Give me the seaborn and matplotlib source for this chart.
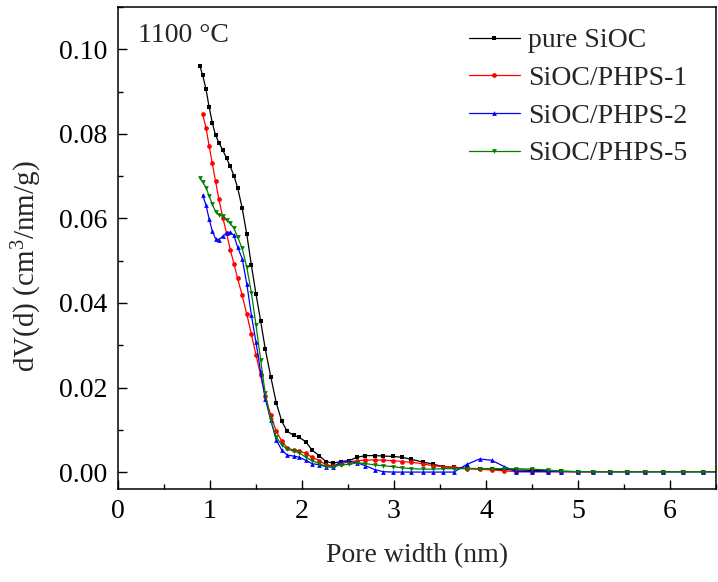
import numpy as np
import pandas as pd
import matplotlib
matplotlib.use("Agg")
import matplotlib.pyplot as plt
from matplotlib.ticker import MultipleLocator
import seaborn as sns

nan = np.nan

pore_width = [0.89, 0.92, 0.957, 0.99, 1.025, 1.06, 1.097, 1.14, 1.18, 1.22,
              1.26, 1.30, 1.35, 1.40, 1.45, 1.50, 1.55, 1.60, 1.66, 1.72,
              1.78, 1.84, 1.91, 1.97, 2.04, 2.11, 2.19, 2.26, 2.34, 2.42,
              2.51, 2.60, 2.69, 2.79, 2.88, 2.99, 3.09, 3.19, 3.31, 3.42,
              3.53, 3.65, 3.79, 3.93, 4.06, 4.20, 4.33, 4.50, 4.67, 4.82,
              5.00, 5.16, 5.35, 5.53, 5.73, 5.92, 6.14, 6.36, 6.58]

pure_sioc = [0.0960, 0.0939, 0.0905, 0.0864, 0.0826, 0.0797, 0.0779, 0.0761, 0.0742, 0.0723,
             0.0701, 0.0673, 0.0624, 0.0562, 0.0489, 0.0421, 0.0358, 0.0292, 0.0226, 0.0164,
             0.0120, 0.0096, 0.0087, 0.0082, 0.0072, 0.0052, 0.0038, 0.0025, 0.0021, 0.0025,
             0.0027, 0.0035, 0.0039, 0.0039, 0.0038, 0.0037, 0.0035, 0.0030, 0.0024, 0.0019,
             0.0013, 0.0011, 0.0009, 0.0008, 0.0007, 0.0006, 0.0005, 0.0004, 0.0003, 0.0002,
             0.0001, 0.0001, 0.0001, 0.0001, 0.0001, 0.0001, 0.0001, 0.0001, 0.0001]

phps_1 = [nan, 0.0846, 0.0814, 0.0772, 0.0730, 0.0688, 0.0645, 0.0601, 0.0565, 0.0526,
          0.0493, 0.0458, 0.0418, 0.0373, 0.0326, 0.0277, 0.0229, 0.0180, 0.0135, 0.0097,
          0.0073, 0.0057, 0.0052, 0.0050, 0.0044, 0.0035, 0.0027, 0.0017, 0.0015, 0.0020,
          0.0024, 0.0027, 0.0028, 0.0029, 0.0028, 0.0027, 0.0025, 0.0023, 0.0020, 0.0015,
          0.0013, 0.0011, 0.0008, 0.0007, 0.0005, 0.0003, 0.0001, 0.0001, 0.0001, 0.0001,
          0.0001, 0.0001, 0.0001, 0.0001, 0.0001, 0.0001, 0.0001, 0.0001, 0.0001]

phps_2 = [nan, 0.0655, 0.0631, 0.0599, 0.0570, 0.0552, 0.0550, 0.0558, 0.0566, 0.0567,
          0.0560, 0.0532, 0.0505, 0.0445, 0.0371, 0.0307, 0.0237, 0.0174, 0.0123, 0.0076,
          0.0052, 0.0040, 0.0038, 0.0035, 0.0028, 0.0020, 0.0017, 0.0013, 0.0012, 0.0024,
          0.0025, 0.0022, 0.0015, 0.0006, 0.0001, 0.0000, 0.0000, 0.0000, 0.0000, 0.0000,
          0.0000, 0.0000, 0.0018, 0.0031, 0.0028, 0.0013, 0.0001, 0.0001, 0.0001, 0.0001,
          0.0001, 0.0001, 0.0001, 0.0001, 0.0001, 0.0001, 0.0001, 0.0001, 0.0001]

phps_5 = [0.0696, 0.0686, 0.0673, 0.0653, 0.0634, 0.0616, 0.0608, 0.0605, 0.0596, 0.0588,
          0.0577, 0.0556, 0.0529, 0.0484, 0.0424, 0.0348, 0.0266, 0.0186, 0.0123, 0.0083,
          0.0064, 0.0054, 0.0050, 0.0046, 0.0035, 0.0027, 0.0020, 0.0013, 0.0012, 0.0017,
          0.0018, 0.0022, 0.0020, 0.0017, 0.0015, 0.0013, 0.0010, 0.0008, 0.0007, 0.0007,
          0.0008, 0.0008, 0.0008, 0.0008, 0.0008, 0.0008, 0.0008, 0.0007, 0.0005, 0.0002,
          0.0001, 0.0001, 0.0001, 0.0001, 0.0001, 0.0001, 0.0001, 0.0001, 0.0001]

series_names = ["pure SiOC", "SiOC/PHPS-1", "SiOC/PHPS-2", "SiOC/PHPS-5"]
series_values = [pure_sioc, phps_1, phps_2, phps_5]
colors = ["#000000", "#ff0000", "#0000ff", "#008000"]
markers = ["s", "o", "^", "v"]

sns.set_style("ticks")
plt.rcParams["font.family"] = ["Liberation Serif", "DejaVu Serif"]
plt.rcParams["mathtext.fontset"] = "custom"
plt.rcParams["mathtext.rm"] = "Liberation Serif"
plt.rcParams["mathtext.it"] = "Liberation Serif:italic"

FS = 20

fig = plt.figure(figsize=(7.18, 5.82), dpi=100)
ax = fig.add_axes([118 / 718, 1 - 489 / 582, (716 - 118) / 718, (489 - 7) / 582])

for name, vals, c, m in zip(series_names, series_values, colors, markers):
    df = pd.DataFrame({"x": pore_width, "y": vals}).dropna()
    sns.lineplot(data=df, x="x", y="y", ax=ax, color=c, marker=m, markersize=3.4,
                 markeredgewidth=0, linewidth=0.9, label=name, sort=False)

ax.set_xlim(0, 6.5)
ax.set_ylim(-0.004, 0.11)
ax.xaxis.set_major_locator(MultipleLocator(1))
ax.xaxis.set_minor_locator(MultipleLocator(0.5))
ax.yaxis.set_major_locator(MultipleLocator(0.02))
ax.yaxis.set_minor_locator(MultipleLocator(0.01))
ax.yaxis.set_major_formatter(matplotlib.ticker.FormatStrFormatter("%.2f"))
ax.tick_params(which="both", direction="in", labelsize=FS, colors="black")
ax.tick_params(which="major", length=6.5, width=1)
ax.tick_params(which="minor", length=3.5, width=1)
ax.tick_params(axis="y", which="major", pad=8)
ax.tick_params(axis="x", which="major", pad=7)
for s in ax.spines.values():
    s.set_linewidth(1.1)
    s.set_color("black")

ax.set_xlabel("Pore width (nm)", fontsize=FS, labelpad=14)
ax.set_ylabel("dV(d) (cm$^3$/nm/g)", fontsize=21)
ax.yaxis.set_label_coords(-0.124, 0.463)

ax.text(0.033, 0.966, "1100 °C", transform=ax.transAxes, fontsize=FS,
        ha="left", va="top")

leg = ax.legend(loc="upper right", frameon=False, fontsize=FS, numpoints=1,
                handlelength=1.85, handletextpad=0.3, labelspacing=0.44,
                bbox_to_anchor=(0.985, 0.997), borderaxespad=0.3)

fig.savefig("out.png", dpi=100)
